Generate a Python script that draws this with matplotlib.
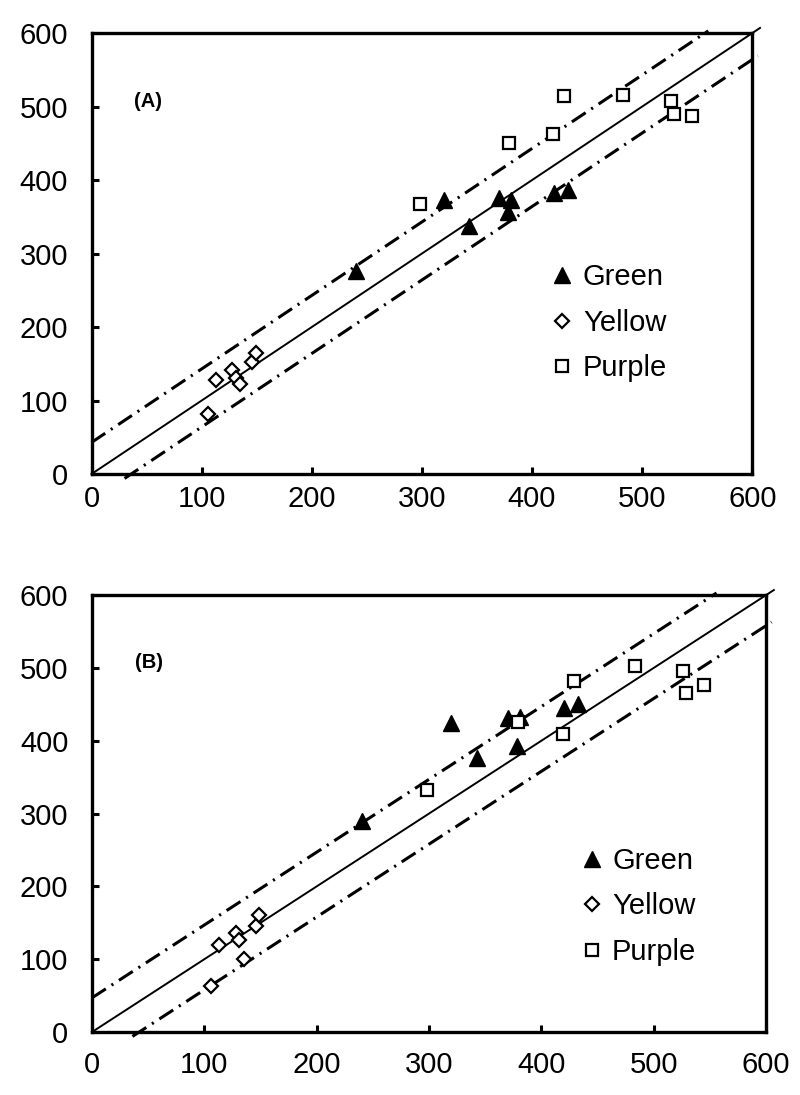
import matplotlib
matplotlib.use('Agg')
import matplotlib.pyplot as plt
import numpy as np

plt.rcParams['font.family'] = ['Liberation Sans', 'DejaVu Sans']

# observed values (x), shared by both panels
green_x = [240, 320, 343, 370, 381, 378, 420, 433]
yellow_x = [106, 113, 128, 131, 135, 146, 149]
purple_x = [298, 379, 419, 429, 483, 526, 529, 545]

# predicted values, panel A
green_a = [276, 373, 337, 376, 373, 357, 382, 387]
yellow_a = [81, 128, 141, 131, 122, 152, 165]
purple_a = [368, 451, 463, 515, 516, 507, 490, 487]

# predicted values, panel B
green_b = [290, 425, 377, 431, 433, 393, 445, 450]
yellow_b = [63, 120, 136, 126, 100, 145, 161]
purple_b = [332, 426, 409, 482, 502, 496, 465, 477]

# offsets of the dash-dot bands
band_a = (43, -36)
band_b = (47, -42)

ticks = [0, 100, 200, 300, 400, 500, 600]

fig = plt.figure(figsize=(8, 10.95), dpi=100)
ax_a = fig.add_axes([0.1144, 0.5671, 0.826, 0.4027])
ax_b = fig.add_axes([0.115, 0.0575, 0.8425, 0.399])

dash = (5.4, 2.2, 0.7, 2.2)


def draw_panel(ax, gy, yy, py, band, tag, leg_xy, xpad):
    up, lo = band
    ax.plot([0, 607], [0, 607], color='black', lw=1.4, clip_on=False, zorder=2)
    xu = np.array([0, 600 - up + 3])
    ax.plot(xu, xu + up, color='black', lw=2.2, dashes=dash, clip_on=False, zorder=2)
    xl = np.array([-lo - 6, 605])
    ax.plot(xl, xl + lo, color='black', lw=2.2, dashes=dash, clip_on=False, zorder=2)

    ax.plot(green_x, gy, linestyle='none', marker='^', ms=11.5, color='black',
            label='Green', zorder=4)
    ax.plot(yellow_x, yy, linestyle='none', marker='D', ms=7.5, mfc='white',
            mec='black', mew=1.6, label='Yellow', zorder=4)
    ax.plot(purple_x, py, linestyle='none', marker='s', ms=9, mfc='white',
            mec='black', mew=1.6, label='Purple', zorder=4)

    ax.set_xlim(0, 600)
    ax.set_ylim(0, 600)
    ax.set_xticks(ticks)
    ax.set_yticks(ticks)
    for s in ax.spines.values():
        s.set_linewidth(2.4)
    ax.tick_params(axis='both', direction='in', length=5, width=2.2, labelsize=21)
    ax.tick_params(axis='y', pad=17)
    ax.tick_params(axis='x', pad=xpad)
    ax.text(0.085, 0.845, tag, transform=ax.transAxes, fontsize=14.5,
            fontweight='bold', ha='center', va='center')
    ax.legend(loc='center left', bbox_to_anchor=leg_xy, frameon=False,
              fontsize=21, borderpad=0, borderaxespad=0, handlelength=0.8,
              handletextpad=0.3, labelspacing=0.6)


draw_panel(ax_a, green_a, yellow_a, purple_a, band_a, '(A)', (0.695, 0.343), 8)
draw_panel(ax_b, green_b, yellow_b, purple_b, band_b, '(B)', (0.724, 0.288), 14)

fig.savefig('out.png', dpi=100)
